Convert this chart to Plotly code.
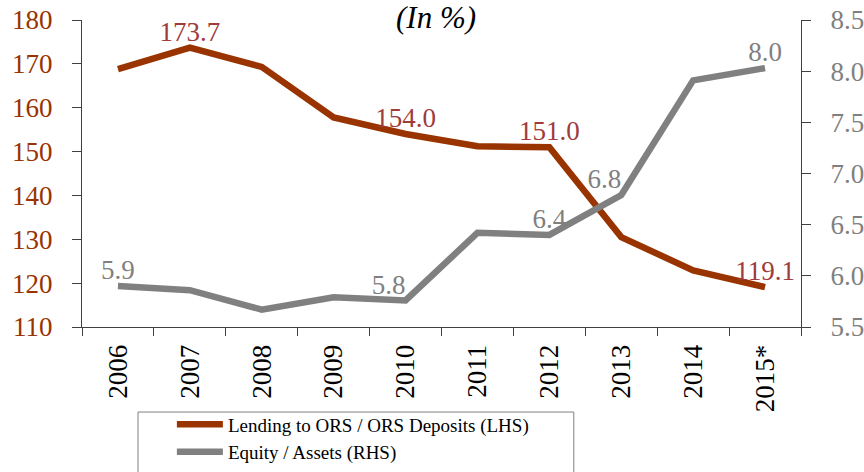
import plotly.graph_objects as go

years = ["2006", "2007", "2008", "2009", "2010", "2011", "2012", "2013", "2014", "2015*"]
lending = [168.8, 173.7, 169.3, 157.8, 154.0, 151.2, 151.0, 130.5, 122.9, 119.1]
equity = [5.9, 5.86, 5.67, 5.79, 5.76, 6.42, 6.4, 6.79, 7.91, 8.03]
lending_labels = ["", "173.7", "", "", "154.0", "", "151.0", "", "", "119.1"]
equity_labels = ["5.9", "", "", "", "5.8", "", "6.4", "6.8", "", "8.0"]

FONT = "Liberation Serif"
RED = "#993300"
LABEL_RED = "#9E3B3B"
GRAY = "#808080"

eq_pos = ["top center", "top center", "top center", "top center", "top left",
          "top center", "top center", "top left", "top center", "top center"]

fig = go.Figure()
fig.add_trace(go.Scatter(
    x=years, y=lending, mode="lines+text", name="Lending to ORS / ORS Deposits (LHS)",
    line=dict(color=RED, width=6.5), text=lending_labels, textposition="top center",
    textfont=dict(family=FONT, size=27, color=LABEL_RED), cliponaxis=False,
))
fig.add_trace(go.Scatter(
    x=years, y=equity, mode="lines+text", name="Equity / Assets (RHS)", yaxis="y2",
    line=dict(color=GRAY, width=6.5), text=equity_labels, textposition=eq_pos,
    textfont=dict(family=FONT, size=27, color=GRAY), cliponaxis=False,
))

fig.update_layout(
    width=864, height=472,
    margin=dict(l=82, r=63, t=20, b=145, autoexpand=False),
    paper_bgcolor="white", plot_bgcolor="white",
    font=dict(family=FONT, size=20),
    showlegend=True,
    legend=dict(
        x=0.125, y=-0.255, xanchor="left", yanchor="top",
        borderwidth=0, bgcolor="rgba(0,0,0,0)",
        font=dict(family=FONT, size=19, color="black"),
        tracegroupgap=0, itemwidth=46,
    ),
    xaxis=dict(
        type="category", tickangle=-90, showgrid=False,
        showline=True, linecolor="#404040", linewidth=1,
        ticks="outside", ticklen=8, tickcolor="#404040", tickson="boundaries",
        tickfont=dict(family=FONT, size=27, color="black"), ticklabelstandoff=6,
    ),
    yaxis=dict(
        range=[110, 180], dtick=10, showgrid=False, zeroline=False,
        showline=True, linecolor="#404040", linewidth=1,
        ticks="outside", ticklen=9, tickcolor="#404040",
        tickfont=dict(family=FONT, size=27, color=RED), ticklabelstandoff=14,
        ticklabeloverflow="allow",
    ),
    yaxis2=dict(
        range=[5.5, 8.5], dtick=0.5, tickformat=".1f", overlaying="y", side="right",
        showgrid=False, zeroline=False,
        showline=True, linecolor="#404040", linewidth=1,
        ticks="outside", ticklen=9, tickcolor="#404040",
        tickfont=dict(family=FONT, size=27, color=GRAY), ticklabelstandoff=14,
        ticklabeloverflow="allow",
    ),
    shapes=[dict(
        type="rect", xref="paper", yref="paper",
        x0=0.0779, x1=0.684, y0=-0.52, y1=-0.277,
        line=dict(color="#808080", width=1), fillcolor="rgba(0,0,0,0)", layer="below",
    )],
    annotations=[dict(
        text="<i>(In %)</i>", xref="paper", yref="paper", x=0.4917, y=1.008,
        xanchor="center", yanchor="middle", showarrow=False,
        font=dict(family=FONT, size=31, color="black"),
    )],
)

fig.write_html("out.html", config={"displayModeBar": False},
               post_script="document.body.style.margin='0';")
